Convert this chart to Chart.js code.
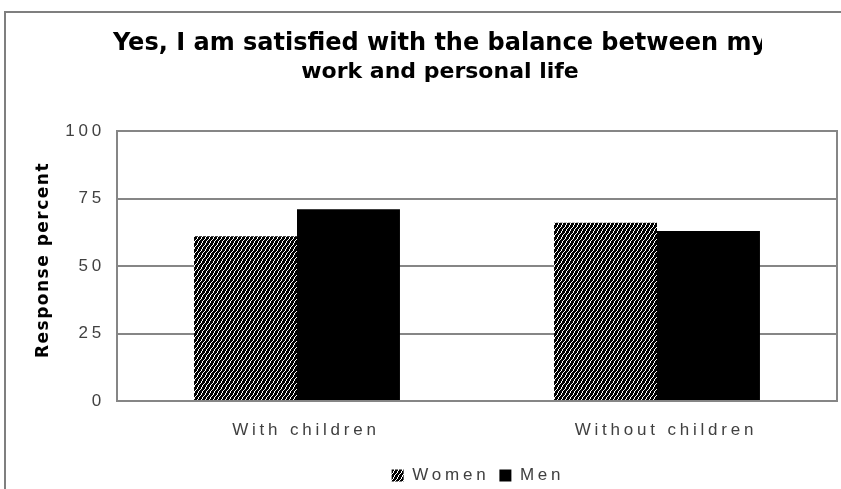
<!DOCTYPE html>
<html>
<head>
<meta charset="utf-8">
<script src="https://cdn.jsdelivr.net/npm/chart.js@4.4.1/dist/chart.umd.min.js"></script>
<style>
  html, body { margin: 0; padding: 0; background: #fff; }
  #wrap { width: 841px; height: 489px; position: relative; }
</style>
</head>
<body>
<div id="wrap"><canvas id="balanceChart"></canvas></div>
<script>
const categories = ["With children", "Without children"];
const womenValues = [61, 66];
const menValues = [71, 63];
const yTicks = [0, 25, 50, 75, 100];
const titleLines = ["Yes, I am satisfied with the balance between my", "work and personal life"];
const yAxisTitle = "Response percent";

const canvas = document.getElementById("balanceChart");
const ctx = canvas.getContext("2d");
const TEXT_SPACING = "3.8px";

// dense upward diagonal hatch used for the Women bars
function makeHatch() {
    const tile = document.createElement("canvas");
    tile.width = 4;
    tile.height = 6;
    const t = tile.getContext("2d");
    t.fillStyle = "#000";
    t.fillRect(0, 0, 4, 6);
    t.fillStyle = "#fff";
    [[0, 5], [1, 4], [1, 3], [2, 2], [2, 1], [3, 0]].forEach(([x, y]) => t.fillRect(x, y, 1, 1));
    return ctx.createPattern(tile, "repeat");
}

const chartDecor = {
    id: "chartDecor",
    beforeUpdate(chart) {
        // wide spacing for tick and legend text, also while measuring
        chart.ctx.letterSpacing = TEXT_SPACING;
    },
    afterLayout(chart) {
        // nudge the legend row right and down under the plot
        const lg = chart.legend;
        lg.left += 57;
        lg.right += 57;
        lg.top += 5;
        lg.bottom += 5;
    },
    beforeDraw(chart) {
        const c = chart.ctx;
        c.save();
        c.strokeStyle = "#7f7f7f";
        c.lineWidth = 2;
        c.beginPath();
        c.moveTo(5, 489);
        c.lineTo(5, 12);
        c.lineTo(841, 12);
        c.stroke();
        c.restore();
        c.letterSpacing = TEXT_SPACING;
    },
    beforeDatasetsDraw(chart) {
        const c = chart.ctx;
        const a = chart.chartArea;
        c.save();
        c.strokeStyle = "#868686";
        c.lineWidth = 2;
        c.strokeRect(a.left, a.top, a.right - a.left, a.bottom - a.top);
        c.restore();
    },
    afterDraw(chart) {
        const c = chart.ctx;
        c.save();
        c.fillStyle = "#000";
        c.textAlign = "center";
        c.textBaseline = "middle";

        // rotated axis title
        c.letterSpacing = "1.5px";
        c.font = "bold 17px 'DejaVu Sans'";
        c.save();
        c.translate(44, 260);
        c.rotate(-Math.PI / 2);
        c.fillText(yAxisTitle, 0, 0);
        c.restore();

        // chart title, first line runs past the frame edge
        c.letterSpacing = "0px";
        c.font = "bold 22px 'DejaVu Sans'";
        c.fillText(titleLines[1], 440, 72);
        c.font = "bold 24px 'DejaVu Sans'";
        c.beginPath();
        c.rect(0, 0, 762, 489);
        c.clip();
        c.fillText(titleLines[0], 440, 44);
        c.restore();
    }
};

const balanceChart = new Chart(ctx, {
    type: "bar",
    data: {
        labels: categories,
        datasets: [
            {
                label: "Women",
                data: womenValues,
                backgroundColor: makeHatch(),
                borderWidth: 0,
                categoryPercentage: 0.572,
                barPercentage: 1
            },
            {
                label: "Men",
                data: menValues,
                backgroundColor: "#000",
                borderWidth: 0,
                categoryPercentage: 0.572,
                barPercentage: 1
            }
        ]
    },
    options: {
        responsive: true,
        maintainAspectRatio: false,
        animation: false,
        layout: { padding: { top: 131, left: 5, right: 4, bottom: 0 } },
        scales: {
            x: {
                afterFit(scale) {
                    scale.height = 51;
                },
                grid: { display: false, drawTicks: false },
                border: { display: false },
                ticks: {
                    color: "#404040",
                    padding: 19,
                    labelOffset: 9,
                    font: { family: "'Liberation Sans'", size: 17 }
                }
            },
            y: {
                min: 0,
                max: 100,
                afterBuildTicks(scale) {
                    scale.ticks = yTicks.map(v => ({ value: v }));
                },
                afterFit(scale) {
                    scale.width = 112;
                },
                grid: { color: "#868686", lineWidth: 2, drawTicks: false },
                border: { display: false },
                ticks: {
                    color: "#404040",
                    padding: 12,
                    font: { family: "'Liberation Sans'", size: 17 }
                }
            }
        },
        plugins: {
            title: { display: false },
            tooltip: { enabled: false },
            legend: {
                position: "bottom",
                labels: {
                    color: "#404040",
                    boxWidth: 12,
                    boxHeight: 12,
                    padding: 10,
                    font: { family: "'Liberation Sans'", size: 17 }
                }
            }
        }
    },
    plugins: [chartDecor]
});
</script>
</body>
</html>
